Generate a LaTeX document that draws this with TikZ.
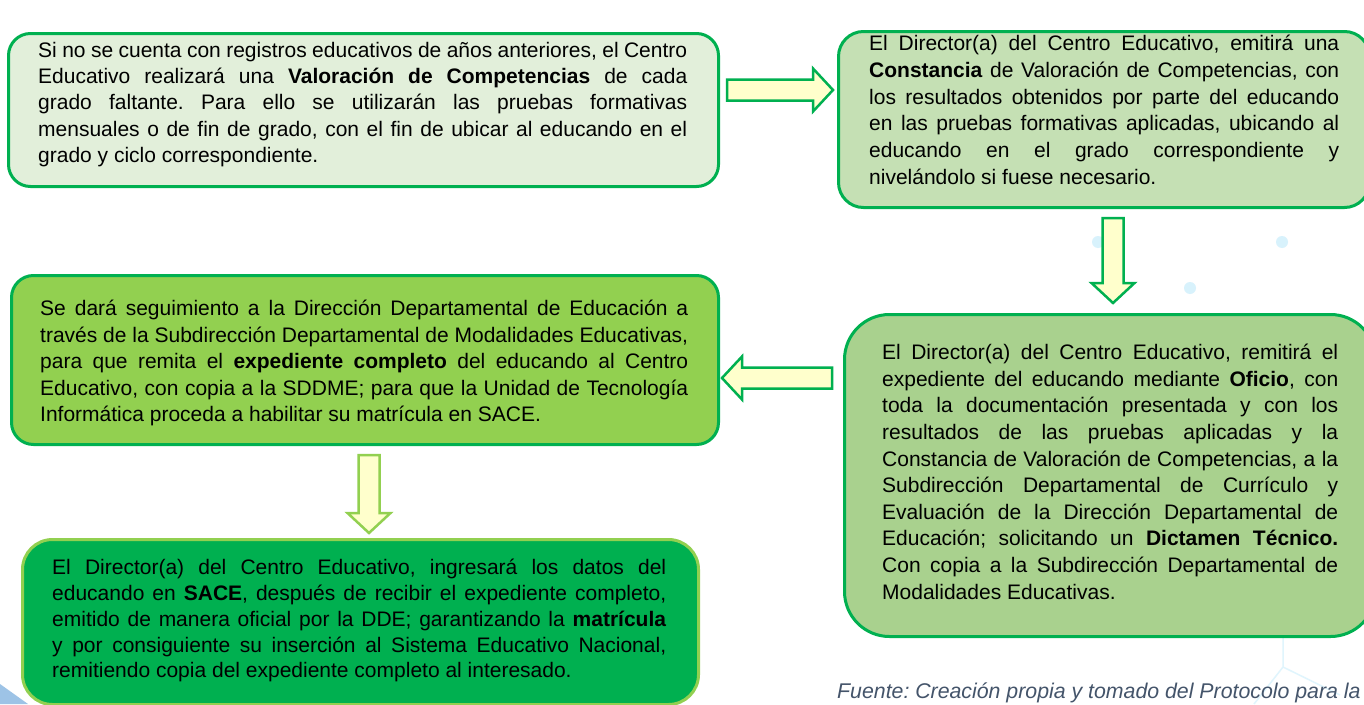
\documentclass[tikz,border=0pt]{standalone}
\usepackage{fontspec}
\setmainfont{Liberation Sans}
\usetikzlibrary{calc}
\definecolor{verde}{HTML}{00B050}
\definecolor{verdeclaro}{HTML}{92D050}
\definecolor{relleno1}{HTML}{E2EFDA}
\definecolor{relleno2}{HTML}{C5E0B4}
\definecolor{relleno3}{HTML}{A9D18E}
\definecolor{flecha}{HTML}{FFFFCC}
\definecolor{fuentegris}{HTML}{44546A}
\definecolor{celeste}{HTML}{9DC3E6}
\hyphenpenalty=10000
\tolerance=10000
\frenchspacing
\def\blockarrow[#1](#2)(#3){\coordinate (hb) at ($(#3)!20pt!(#2)$);
	\draw[#1] ($(#2)!10.5pt!90:(#3)$) -- ($(hb)!10.5pt!90:(#3)$) -- ($(hb)!21.5pt!90:(#3)$) -- (#3)
	-- ($(hb)!21.5pt!-90:(#3)$) -- ($(hb)!10.5pt!-90:(#3)$) -- ($(#2)!10.5pt!-90:(#3)$) -- cycle;}
\tikzset{
	paso/.style={draw=verde, line width=3pt, inner sep=0pt, anchor=north west},
	texto/.style={inner sep=0pt, anchor=north west, align=justify, font=\fontsize{21pt}{26.5pt}\selectfont},
	flechabloque/.style={draw=verde, fill=flecha, line width=2.5pt},
	fuente/.style={font=\fontsize{21.3pt}{26pt}\selectfont\itshape, text=fuentegris, inner sep=0pt},
	punto/.style={fill=cyan!25, opacity=0.6},
}

\begin{document}
\begin{tikzpicture}[x=1pt, y=-1pt]
			%%%%% START %%%%%
			
			\fill[white] (0, 0) rectangle (1364, 704);
			\useasboundingbox (0, 0) rectangle (1364, 704);
			
			% background
			\foreach \px/\py in {1098/242, 1190/288, 1282/242}
				\fill[punto] (\px, \py) circle (6);
			\draw[line width=1.5pt, color=cyan!12] (1283, 637) -- (1283, 667) -- (1254, 704);
			\draw[line width=1.5pt, color=cyan!12] (1283, 667) -- (1340, 695);
			\fill[celeste] (0, 684) -- (28, 704) -- (0, 704) -- cycle;
			
			% boxes
			\node[paso, fill=relleno1, rounded corners=22pt, minimum width=710pt, minimum height=153pt] (valoracion) at (7, 32) {};
			\node[paso, fill=relleno2, rounded corners=25pt, minimum width=531pt, minimum height=176pt] (constancia) at (837, 30) {};
			\node[paso, fill=relleno3, rounded corners=45pt, minimum width=531pt, minimum height=322pt] (oficio) at (843, 313) {};
			\node[paso, fill=verdeclaro, rounded corners=22pt, minimum width=707pt, minimum height=169pt] (seguimiento) at (10, 274) {};
			\node[paso, draw=verdeclaro, fill=verde, rounded corners=30pt, minimum width=676pt, minimum height=165pt] (matricula) at (21, 538) {};
			
			% texts
			\node[texto, text width=649pt, font=\fontsize{21pt}{26.2pt}\selectfont] (txtvaloracion) at ($(valoracion.north west)+(31, 10)$)
				{Si no se cuenta con registros educativos de años anteriores, el Centro\linebreak
				Educativo realizará una \textbf{Valoración de Competencias} de cada\linebreak
				grado faltante. Para ello se utilizarán las pruebas formativas\linebreak
				mensuales o de fin de grado, con el fin de ubicar al educando en el\linebreak
				grado y ciclo correspondiente.};
			
			\node[texto, text width=470pt, font=\fontsize{21pt}{26.7pt}\selectfont] (txtconstancia) at ($(constancia.north west)+(32, 5)$)
				{El Director(a) del Centro Educativo, emitirá una\linebreak
				\textbf{Constancia} de Valoración de Competencias, con\linebreak
				los resultados obtenidos por parte del educando\linebreak
				en las pruebas formativas aplicadas, ubicando al\linebreak
				educando en el grado correspondiente y\linebreak
				nivelándolo si fuese necesario.};
			
			\node[texto, text width=456pt, font=\fontsize{21pt}{26.6pt}\selectfont] (txtoficio) at ($(oficio.north west)+(39, 31)$)
				{El Director(a) del Centro Educativo, remitirá el\linebreak
				expediente del educando mediante \textbf{Oficio}, con\linebreak
				toda la documentación presentada y con los\linebreak
				resultados de las pruebas aplicadas y la\linebreak
				Constancia de Valoración de Competencias, a la\linebreak
				Subdirección Departamental de Currículo y\linebreak
				Evaluación de la Dirección Departamental de\linebreak
				Educación; solicitando un \textbf{Dictamen Técnico.}\linebreak
				Con copia a la Subdirección Departamental de\linebreak
				Modalidades Educativas.};
			
			\node[texto, text width=648pt] (txtseguimiento) at ($(seguimiento.north west)+(30, 26)$)
				{Se dará seguimiento a la Dirección Departamental de Educación a\linebreak
				través de la Subdirección Departamental de Modalidades Educativas,\linebreak
				para que remita el \textbf{expediente completo} del educando al Centro\linebreak
				Educativo, con copia a la SDDME; para que la Unidad de Tecnología\linebreak
				Informática proceda a habilitar su matrícula en SACE.};
			
			\node[texto, text width=614pt, font=\fontsize{21pt}{25.8pt}\selectfont] (txtmatricula) at ($(matricula.north west)+(31, 21)$)
				{El Director(a) del Centro Educativo, ingresará los datos del\linebreak
				educando en \textbf{SACE}, después de recibir el expediente completo,\linebreak
				emitido de manera oficial por la DDE; garantizando la \textbf{matrícula}\linebreak
				y por consiguiente su inserción al Sistema Educativo Nacional,\linebreak
				remitiendo copia del expediente completo al interesado.};
			
			% arrows
			\coordinate (a1s) at ($(valoracion.north east)+(7, 58)$);
			\coordinate (a1e) at ($(constancia.north west)+(-4, 60)$);
			\blockarrow[flechabloque](a1s)(a1e)
			
			\coordinate (a2s) at ($(constancia.south west)+(276, 9)$);
			\coordinate (a2e) at ($(oficio.north west)+(270, -10)$);
			\blockarrow[flechabloque](a2s)(a2e)
			
			\coordinate (a3s) at ($(oficio.north west)+(-11, 65)$);
			\coordinate (a3e) at ($(seguimiento.north east)+(2, 104)$);
			\blockarrow[flechabloque](a3s)(a3e)
			
			\coordinate (a4s) at ($(seguimiento.south west)+(359, 9)$);
			\coordinate (a4e) at ($(matricula.north west)+(348, -5)$);
			\blockarrow[flechabloque, draw=verdeclaro](a4s)(a4e)
			
			\node[fuente, anchor=base west] (nota) at (837, 698) {Fuente: Creación propia y tomado del Protocolo para la};
			
			%%%%% END %%%%%
\end{tikzpicture}
\end{document}
